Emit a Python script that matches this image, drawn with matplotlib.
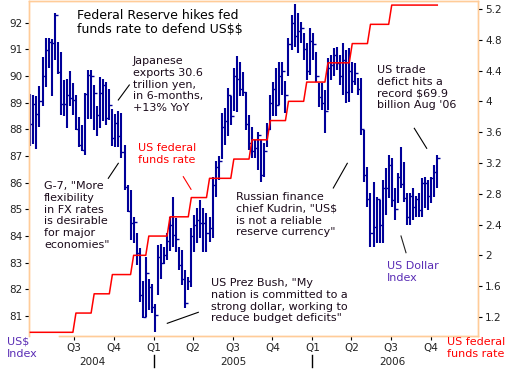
import numpy as np
import pandas as pd
import matplotlib
matplotlib.use('Agg')
import matplotlib.pyplot as plt
import matplotlib.dates as mdates
from matplotlib.transforms import blended_transform_factory

plt.rcParams['text.parse_math'] = False

# ---------------- data ----------------
start_week = '2004-03-22'
usd_high = [89.32, 89.29, 89.26, 89.63, 90.70, 91.44, 91.44, 91.38, 92.35, 91.29,
            90.91, 89.85, 89.89, 90.20, 89.73, 89.29, 88.45, 88.16, 89.35, 90.23,
            90.23, 89.66, 88.88, 89.95, 89.88, 89.79, 89.50, 88.75, 88.58, 88.69,
            88.60, 87.41, 85.91, 85.73, 84.70, 84.10, 83.54, 82.30, 83.20, 82.40,
            82.20, 81.45, 83.66, 83.70, 83.60, 84.10, 84.70, 85.45, 84.66, 83.60,
            83.48, 82.73, 82.48, 84.29, 84.79, 85.04, 85.35, 85.04, 84.85, 84.72,
            86.20, 86.80, 87.00, 88.60, 88.79, 89.55, 89.23, 90.29, 90.75, 90.54,
            90.16, 89.41, 88.54, 88.10, 87.60, 87.91, 87.60, 87.48, 88.23, 89.29,
            89.79, 90.29, 90.54, 90.54, 89.80, 91.41, 92.29, 92.70, 92.35, 92.04,
            91.60, 91.23, 91.79, 91.60, 90.91, 89.73, 89.73, 89.48, 90.67, 90.79,
            91.04, 91.10, 90.79, 91.23, 90.98, 91.04, 90.54, 90.48, 89.91, 89.91,
            87.98, 86.60, 85.60, 86.04, 85.48, 85.35, 86.10, 86.54, 87.04, 86.91,
            85.79, 86.35, 87.35, 86.79, 85.60, 85.60, 85.79, 85.50, 85.60, 86.16,
            86.23, 86.10, 86.23, 86.66, 87.04]
usd_low = [87.39, 87.45, 87.26, 88.10, 88.88, 89.60, 90.29, 89.26, 90.60, 90.08,
           88.54, 88.48, 88.06, 88.88, 88.54, 87.98, 87.35, 87.20, 87.04, 88.38,
           88.38, 87.98, 87.73, 88.04, 88.31, 88.15, 88.35, 87.39, 87.35, 87.35,
           86.92, 85.73, 84.91, 83.85, 83.73, 82.90, 81.54, 80.91, 80.97, 81.23,
           81.10, 80.41, 81.80, 82.40, 82.95, 83.10, 83.45, 83.60, 83.41, 82.73,
           82.16, 81.29, 81.98, 82.10, 83.41, 83.73, 83.91, 83.41, 83.41, 83.79,
           83.91, 85.48, 86.10, 86.90, 87.40, 87.73, 88.16, 88.70, 88.66, 89.23,
           89.23, 87.98, 87.23, 86.91, 86.91, 86.48, 86.04, 86.23, 87.35, 87.98,
           88.48, 88.48, 88.91, 89.29, 88.60, 90.00, 90.98, 91.10, 90.85, 91.23,
           90.60, 89.85, 90.04, 90.60, 89.79, 88.85, 88.73, 87.85, 88.73, 89.85,
           89.98, 90.23, 89.66, 89.29, 88.98, 89.04, 89.35, 89.66, 89.29, 87.79,
           86.04, 85.10, 83.60, 83.60, 83.73, 83.73, 83.73, 84.79, 85.41, 85.10,
           84.60, 85.23, 85.79, 85.29, 84.41, 84.41, 84.60, 84.70, 84.72, 84.72,
           85.04, 84.98, 85.23, 85.48, 85.79]
usd_close = [88.19, 88.94, 88.57, 89.06, 89.98, 90.98, 91.29, 91.23, 92.29, 90.16,
             88.94, 88.94, 89.29, 89.17, 89.10, 88.00, 87.41, 87.23, 89.33, 90.04,
             89.98, 89.35, 88.54, 89.35, 89.66, 88.41, 88.91, 87.69, 88.25, 87.73,
             87.13, 85.85, 84.95, 84.50, 84.51, 83.35, 81.79, 80.97, 82.60, 82.10,
             81.35, 81.04, 83.20, 83.00, 83.30, 83.80, 84.40, 84.04, 83.90, 82.90,
             82.40, 81.50, 82.30, 84.00, 84.40, 84.60, 84.47, 84.50, 84.10, 84.30,
             85.90, 86.60, 86.80, 88.10, 88.30, 89.30, 88.50, 90.00, 89.90, 89.50,
             89.40, 88.20, 87.50, 87.20, 87.30, 87.80, 86.30, 87.20, 88.00, 89.00,
             89.50, 88.90, 90.00, 90.20, 89.30, 91.20, 92.00, 91.50, 91.70, 91.80,
             91.00, 90.20, 91.30, 91.20, 90.00, 89.20, 89.00, 88.70, 90.30, 90.40,
             90.80, 90.50, 90.00, 90.60, 89.40, 90.20, 89.80, 90.10, 89.50, 88.00,
             86.30, 85.40, 84.10, 84.35, 85.40, 84.41, 85.79, 85.79, 86.66, 85.35,
             85.00, 86.23, 85.96, 85.41, 84.73, 85.50, 85.10, 85.40, 84.97, 85.98,
             85.98, 85.50, 86.16, 86.41, 86.91]

initial_rate = 1.00
hike_dates = ['2004-06-30', '2004-08-10', '2004-09-21', '2004-11-10', '2004-12-14',
              '2005-02-02', '2005-03-22', '2005-05-03', '2005-06-30', '2005-08-09',
              '2005-09-20', '2005-11-01', '2005-12-13', '2006-01-31', '2006-03-28',
              '2006-05-10', '2006-06-29']
hike_rates = [1.25, 1.50, 1.75, 2.00, 2.25, 2.50, 2.75, 3.00, 3.25, 3.50,
              3.75, 4.00, 4.25, 4.50, 4.75, 5.00, 5.25]

left_ticks = [81, 82, 83, 84, 85, 86, 87, 88, 89, 90, 91, 92]
right_ticks = [1.2, 1.6, 2.0, 2.4, 2.8, 3.2, 3.6, 4.0, 4.4, 4.8, 5.2]
quarter_ticks = ['2004-07-01', '2004-10-01', '2005-01-01', '2005-04-01', '2005-07-01',
                 '2005-10-01', '2006-01-01', '2006-04-01', '2006-07-01', '2006-10-01']
quarter_labels = ['Q3', 'Q4', 'Q1', 'Q2', 'Q3', 'Q4', 'Q1', 'Q2', 'Q3', 'Q4']
year_labels = ['2004', '2005', '2006']
year_label_pos = ['2004-08-12', '2005-07-02', '2006-07-04']
year_breaks = ['2005-01-01', '2006-01-01']

# ---------------- derived ----------------
weeks = pd.date_range(start_week, periods=len(usd_high), freq='7D')
hd = pd.to_datetime(hike_dates).values
rates_all = np.r_[initial_rate, hike_rates]
fed_weekly = rates_all[np.searchsorted(hd, weeks.values, side='right')]

def dnum(s):
    return mdates.date2num(pd.Timestamp(s).to_pydatetime())

# ---------------- figure ----------------
W, H = 510, 376
fig = plt.figure(figsize=(W / 100, H / 100), dpi=100)
ax = fig.add_axes([29.3 / W, 40 / H, (478.3 - 29.3) / W, 335 / H])
ax2 = ax.twinx()

bar_color = '#000099'
spine_color = '#FFCC99'
txt_color = '#1A0A1A'
purple = '#5A2DB5'

x_left = dnum('2004-03-19 12:00')
x_right = dnum('2007-01-18 14:00')
wk = mdates.date2num(weeks.to_pydatetime())

ax.vlines(wk, usd_low, usd_high, color=bar_color, lw=1.5, zorder=2)
ax.plot(wk, usd_close, linestyle='none', marker=1, markersize=2.5,
        markeredgewidth=1.0, color=bar_color, zorder=2)

ax2.plot(wk, fed_weekly, color='#FF0000', lw=1.1, zorder=3)

ax.set_xlim(x_left, x_right)
ax.set_ylim(80.25, 92.81)
ax2.set_ylim(0.952, 5.303)

ax.set_yticks(left_ticks)
ax.set_yticklabels([str(v) for v in left_ticks])
ax2.set_yticks(right_ticks)
ax2.set_yticklabels(['%g' % v for v in right_ticks])
ax.set_xticks([dnum(q) for q in quarter_ticks])
ax.set_xticklabels(quarter_labels)

for a in (ax, ax2):
    for s in a.spines.values():
        s.set_color(spine_color)
        s.set_linewidth(1.0)
    a.spines['bottom'].set_bounds(dnum('2004-05-27'), x_right)
ax.tick_params(axis='y', direction='out', length=3, width=0.8, color='#000000',
               labelsize=7.5, pad=2, labelcolor='#222222')
ax2.tick_params(axis='y', direction='out', length=3, width=0.8, color='#000000',
                labelsize=7.5, pad=2, labelcolor='#222222')
ax.tick_params(axis='x', direction='out', length=3, width=0.8, color='#000000',
               labelsize=7.5, pad=2, labelcolor='#222222')

trans = blended_transform_factory(ax.transData, ax.transAxes)
for lab, pos in zip(year_labels, year_label_pos):
    ax.text(dnum(pos), -0.077, lab, transform=trans, ha='center', va='center',
            fontsize=7.5, color='#222222')
for yb in year_breaks:
    ax.plot([dnum(yb)] * 2, [-0.057, -0.093], transform=trans, color='black',
            lw=1.0, clip_on=False)

# ---------------- texts ----------------
def ftext(x, y, s, color=txt_color, size=8, ls=1.22, **kw):
    fig.text(x / W, 1 - y / H, s, color=color, fontsize=size, va='top', ha='left',
             linespacing=ls, **kw)

def fline(x0, y0, x1, y1, color='black'):
    fig.add_artist(plt.Line2D([x0 / W, x1 / W], [1 - y0 / H, 1 - y1 / H],
                              color=color, lw=0.8, transform=fig.transFigure))

ftext(77, 9, 'Federal Reserve hikes fed\nfunds rate to defend US$$', color='black', size=9, ls=1.12)
ftext(133, 56, 'Japanese\nexports 30.6\ntrillion yen,\nin 6-months,\n+13% YoY')
fline(118.3, 100, 129.3, 85)
ftext(138, 143, 'US federal\nfunds rate', color='#FF0000')
fline(183.3, 176.7, 191, 189.3, color='#FF0000')
ftext(44, 181, 'G-7, "More\nflexibility\nin FX rates\nis desirable\nfor major\neconomies"')
fline(108.3, 178.3, 118.3, 163.3)
ftext(377, 65, "US trade\ndefict hits a\nrecord $69.9\nbillion Aug '06")
fline(414.3, 128.3, 426.7, 148.3)
ftext(236.5, 192, 'Russian finance\nchief Kudrin, "US$\nis not a reliable\nreserve currency"')
fline(333.3, 188, 347.3, 163.3)
ftext(211, 278, 'US Prez Bush, "My\nnation is committed to a\nstrong dollar, working to\nreduce budget deficits"')
fline(167.3, 323.3, 198.3, 312.3)
ftext(387, 261, 'US Dollar\nIndex', color=purple)
fline(401, 236, 406, 252.7, color='#222222')
ftext(7, 337, 'US$\nIndex', color=purple)
ftext(447, 337, 'US federal\nfunds rate', color='#FF0000')

fig.savefig('out.png', dpi=100)
